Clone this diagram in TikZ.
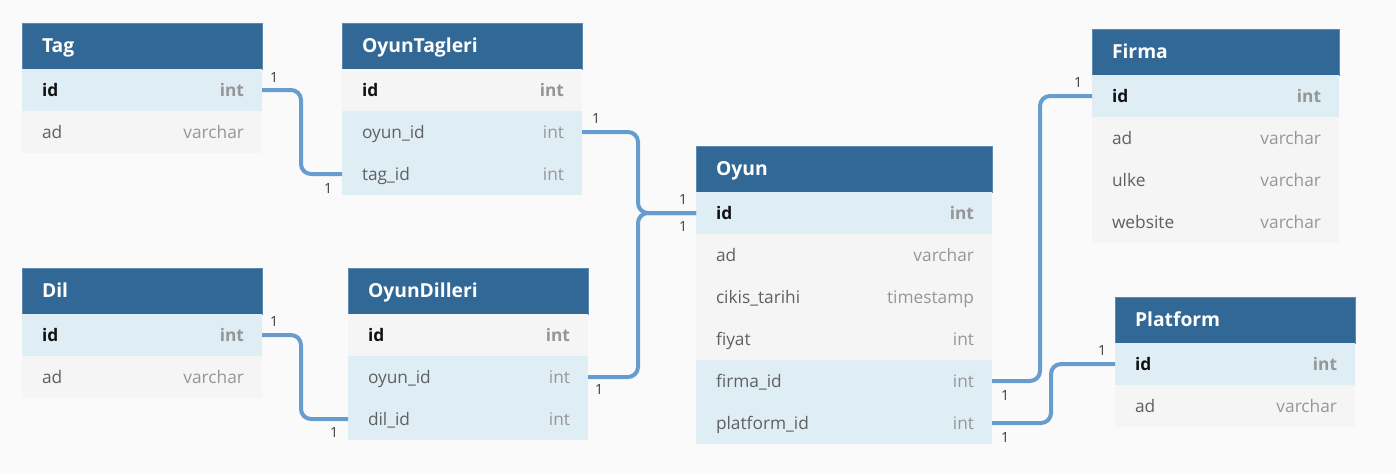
\documentclass[tikz,border=0pt]{standalone}
\usepackage{fontspec}
\setmainfont{Open Sans}
\definecolor{bgc}{HTML}{FAFAFA}
\definecolor{hdrc}{HTML}{316896}
\definecolor{hdrline}{HTML}{5E89AE}
\definecolor{bluerow}{HTML}{DFEDF5}
\definecolor{greyrow}{HTML}{F5F5F5}
\definecolor{fldc}{HTML}{606060}
\definecolor{typc}{HTML}{969696}
\definecolor{keyc}{HTML}{111111}
\definecolor{connc}{HTML}{679CCF}
\definecolor{lblc}{HTML}{3A3A3A}
\tikzset{
  hdrbox/.style={anchor=north west, inner sep=0pt, outer sep=0pt, minimum height=46pt,
    fill=hdrc, draw=hdrline, line width=0.8pt, text=white, text height=17pt, text depth=4pt,
    font=\bfseries\fontsize{19.3}{19.3}\selectfont},
  rowbox/.style={anchor=north west, inner sep=0pt, outer sep=0pt, minimum height=42pt,
    text height=16pt, text depth=4pt, font=\fontsize{17.3}{17.3}\selectfont},
  conn/.style={draw=connc, line width=4pt, rounded corners=10pt},
  lbl/.style={text=lblc, font=\fontsize{14}{14}\selectfont, inner sep=0pt}
}
% name, x, y, width, title
\newcommand\tblhead[5]{\node[hdrbox] (#1) at (#2,#3) {\hbox to #4pt{\hspace{20pt}#5\hfill}};}
% name, x, y, width, fill, field, type
\newcommand\tblrow[7]{\node[rowbox, fill=#5] (#1) at (#2,#3) {\hbox to #4pt{\hspace{20pt}{\color{fldc}#6}\hfill{\color{typc}#7}\hspace{18pt}}};}
\newcommand\tblkey[7]{\node[rowbox, fill=#5] (#1) at (#2,#3) {\hbox to #4pt{\hspace{20pt}{\color{keyc}\bfseries #6}\hfill{\color{typc}\bfseries #7}\hspace{18pt}}};}
\begin{document}
\begin{tikzpicture}[x=1pt, y=-1pt]
\fill[bgc] (0,0) rectangle (1396,474);
\useasboundingbox (0,0) rectangle (1396,474);

% Tag
\tblhead{tag}{22}{23}{240}{Tag}
\tblkey{tag-id}{22}{69}{240}{bluerow}{id}{int}
\tblrow{tag-ad}{22}{111}{240}{greyrow}{ad}{varchar}

% OyunTagleri
\tblhead{ot}{342}{23}{240}{OyunTagleri}
\tblkey{ot-id}{342}{69}{240}{greyrow}{id}{int}
\tblrow{ot-oyun}{342}{111}{240}{bluerow}{oyun\_id}{int}
\tblrow{ot-tag}{342}{153}{240}{bluerow}{tag\_id}{int}

% Dil
\tblhead{dil}{22}{268}{240}{Dil}
\tblkey{dil-id}{22}{314}{240}{bluerow}{id}{int}
\tblrow{dil-ad}{22}{356}{240}{greyrow}{ad}{varchar}

% OyunDilleri
\tblhead{od}{348}{268}{240}{OyunDilleri}
\tblkey{od-id}{348}{314}{240}{greyrow}{id}{int}
\tblrow{od-oyun}{348}{356}{240}{bluerow}{oyun\_id}{int}
\tblrow{od-dil}{348}{398}{240}{bluerow}{dil\_id}{int}

% Oyun
\tblhead{oyun}{696}{146}{296}{Oyun}
\tblkey{o-id}{696}{192}{296}{bluerow}{id}{int}
\tblrow{o-ad}{696}{234}{296}{greyrow}{ad}{varchar}
\tblrow{o-cikis}{696}{276}{296}{greyrow}{cikis\_tarihi}{timestamp}
\tblrow{o-fiyat}{696}{318}{296}{greyrow}{fiyat}{int}
\tblrow{o-firma}{696}{360}{296}{bluerow}{firma\_id}{int}
\tblrow{o-plat}{696}{402}{296}{bluerow}{platform\_id}{int}

% Firma
\tblhead{firma}{1092}{29}{247}{Firma}
\tblkey{f-id}{1092}{75}{247}{bluerow}{id}{int}
\tblrow{f-ad}{1092}{117}{247}{greyrow}{ad}{varchar}
\tblrow{f-ulke}{1092}{159}{247}{greyrow}{ulke}{varchar}
\tblrow{f-web}{1092}{201}{247}{greyrow}{website}{varchar}

% Platform
\tblhead{plat}{1115}{297}{240}{Platform}
\tblkey{p-id}{1115}{343}{240}{bluerow}{id}{int}
\tblrow{p-ad}{1115}{385}{240}{greyrow}{ad}{varchar}

% connectors
\coordinate (x1) at (301,0);
\coordinate (x2) at (638,0);
\coordinate (x3) at (1040,0);
\coordinate (x4) at (1051,0);
\draw[conn] (tag-id.east) -| (x1 |- ot-tag.west) -- (ot-tag.west);
\draw[conn] (dil-id.east) -| (x1 |- od-dil.west) -- (od-dil.west);
\draw[conn] (ot-oyun.east) -| (x2 |- o-id.west) -- (o-id.west);
\draw[conn] (od-oyun.east) -| (x2 |- o-id.west) -- (o-id.west);
\draw[conn] (o-firma.east) -| (x3 |- f-id.west) -- (f-id.west);
\draw[conn] (o-plat.east) -| (x4 |- p-id.west) -- (p-id.west);

% labels
\node[lbl] (l1) at (274,78) {1};
\node[lbl] (l2) at (328,188) {1};
\node[lbl] (l3) at (274,321) {1};
\node[lbl] (l4) at (334,432) {1};
\node[lbl] (l5) at (596,119) {1};
\node[lbl] (l6) at (599,389) {1};
\node[lbl] (l7) at (683,199) {1};
\node[lbl] (l8) at (683,226) {1};
\node[lbl] (l9) at (1078,83) {1};
\node[lbl] (l10) at (1102,350) {1};
\node[lbl] (l11) at (1005,395) {1};
\node[lbl] (l12) at (1005,437) {1};
\end{tikzpicture}
\end{document}
